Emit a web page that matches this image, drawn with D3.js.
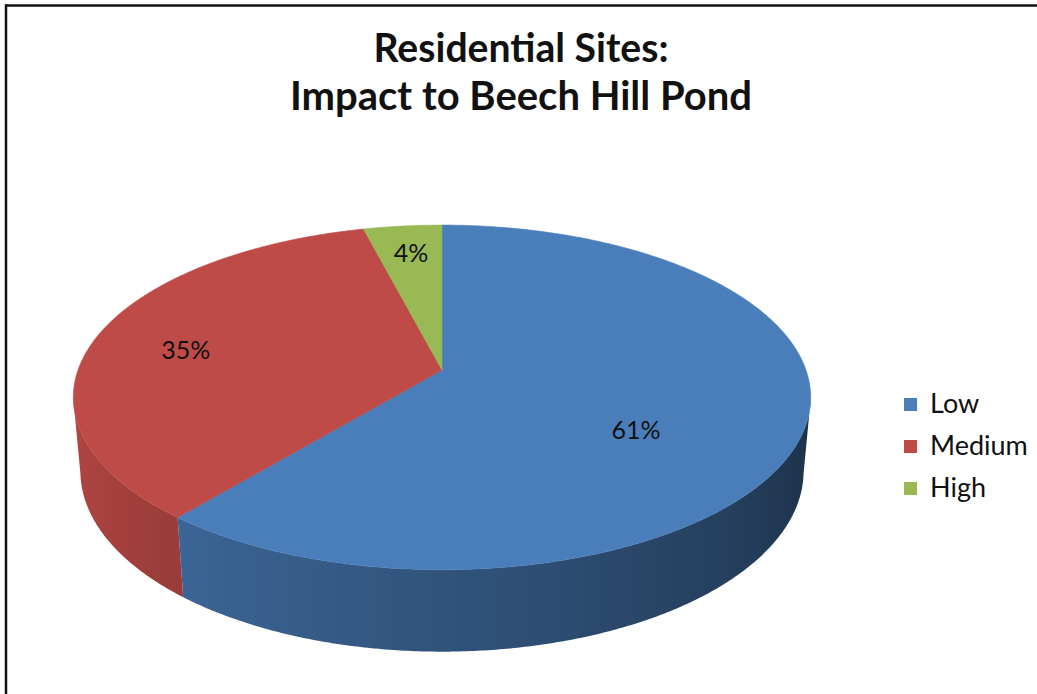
<!DOCTYPE html>
<html>
<head>
<meta charset="utf-8">
<script src="https://cdn.jsdelivr.net/npm/d3@7"></script>
<style>
  html, body { margin: 0; padding: 0; background: #ffffff; }
  svg { display: block; }
</style>
</head>
<body>
<svg id="chart" width="1037" height="694"></svg>
<script>
// ---- data ----
const categories = ["Low", "Medium", "High"];
const values = [61, 35, 4];
const valueLabels = ["61%", "35%", "4%"];
const colors = ["#4a7ebb", "#be4b48", "#98b954"];
const titleLines = ["Residential Sites:", "Impact to Beech Hill Pond"];

// ---- layout constants ----
const W = 1037, H = 694;
const cx = 442, cy = 370;          // projected pie centre
const sinPhi = 0.4615, cosPhi = Math.sqrt(1 - sinPhi * sinPhi);
const D = 5.58, F = 2031;          // camera distance and focal length (radius = 1)
const T = 0.23;                    // pie thickness
const labelR = [0.55, 0.74, 0.76];
const labelDy = [28, 7, -4];

const svg = d3.select("#chart");
svg.append("rect").attr("width", W).attr("height", H).attr("fill", "#fff");
const defs = svg.append("defs");

const color = d3.scaleOrdinal().domain(categories).range(colors);

function proj(theta, r, h) {
  const x = r * Math.sin(theta), d = r * Math.cos(theta);
  const z = D + d * cosPhi - h * sinPhi;
  return [cx + F * x / z, cy - F * (h * cosPhi + d * sinPhi) / z];
}

const pie = d3.pie().sort(null).value(d => d.value).startAngle(0).endAngle(2 * Math.PI);
const arcs = pie(categories.map((c, i) => ({ cat: c, value: values[i], label: valueLabels[i], i })));

const line = d3.line();
const STEP = Math.PI / 360;

// ---- side walls (one path per slice, shaded with a horizontal gradient) ----
const walls = svg.append("g");
function shade(base, theta) {
  let t = (theta - Math.PI / 2) / Math.PI;
  t = Math.max(0, Math.min(1, t));
  const k = 0.33 + 0.66 * t;
  const c = d3.rgb(base);
  return d3.rgb(c.r * k, c.g * k, c.b * k).formatHex();
}
const visLo = Math.acos(-0.17), visHi = 2 * Math.PI - Math.acos(-0.17);
arcs.forEach(a => {
  const s = Math.max(a.startAngle, visLo), e = Math.min(a.endAngle, visHi);
  if (e <= s) return;
  const n = Math.max(2, Math.ceil((e - s) / STEP));
  const topPts = [], botPts = [], thetas = [];
  for (let j = 0; j <= n; j++) {
    const t = s + (e - s) * j / n;
    thetas.push(t);
    topPts.push(proj(t, 1, 0));
    botPts.push(proj(t, 1, -T));
  }
  const xs = topPts.map(p => p[0]);
  const xMin = d3.min(xs), xMax = d3.max(xs);
  const gid = "wall-" + a.data.i;
  const grad = defs.append("linearGradient").attr("id", gid)
    .attr("gradientUnits", "userSpaceOnUse")
    .attr("x1", xMin).attr("y1", 0).attr("x2", xMax).attr("y2", 0);
  const stops = thetas.map((t, j) => ({ off: (xs[j] - xMin) / (xMax - xMin || 1), col: shade(color(a.data.cat), t) }))
    .sort((p, q) => p.off - q.off);
  stops.filter((d, j) => j % 6 === 0 || j === stops.length - 1).forEach(st => {
    grad.append("stop").attr("offset", st.off).attr("stop-color", st.col);
  });
  const pts = topPts.concat(botPts.slice().reverse());
  walls.append("path").attr("d", line(pts) + "Z").attr("fill", `url(#${gid})`);
});

// ---- top faces ----
const tops = svg.append("g");
arcs.forEach(a => {
  const n = Math.max(2, Math.ceil((a.endAngle - a.startAngle) / STEP));
  const pts = [proj(0, 0, 0)];
  for (let j = 0; j <= n; j++) {
    pts.push(proj(a.startAngle + (a.endAngle - a.startAngle) * j / n, 1, 0));
  }
  tops.append("path").attr("d", line(pts) + "Z")
    .attr("fill", color(a.data.cat))
    .attr("stroke", color(a.data.cat)).attr("stroke-width", 0.6);
});

// ---- value labels ----
svg.append("g").selectAll("text").data(arcs).join("text")
  .attr("x", a => proj((a.startAngle + a.endAngle) / 2, labelR[a.data.i], 0)[0])
  .attr("y", a => proj((a.startAngle + a.endAngle) / 2, labelR[a.data.i], 0)[1] + labelDy[a.data.i])
  .attr("text-anchor", "middle")
  .attr("dy", "0.35em")
  .attr("font-family", "Lato, 'Open Sans', sans-serif")
  .attr("font-size", 25)
  .attr("fill", "#111")
  .text(a => a.data.label);

// ---- title ----
const titleWidths = [295, 462];
svg.append("g").selectAll("text").data(titleLines).join("text")
  .attr("x", 521)
  .attr("y", (d, i) => 62 + i * 48)
  .attr("text-anchor", "middle")
  .attr("font-family", "Lato, 'Open Sans', sans-serif")
  .attr("font-weight", "bold")
  .attr("font-size", 40)
  .attr("fill", "#111")
  .attr("textLength", (d, i) => titleWidths[i])
  .attr("lengthAdjust", "spacingAndGlyphs")
  .text(d => d);

// ---- legend ----
const legend = svg.append("g").attr("transform", "translate(904,398)");
const items = legend.selectAll("g").data(categories).join("g")
  .attr("transform", (d, i) => `translate(0,${i * 42})`);
items.append("rect").attr("width", 13).attr("height", 13).attr("fill", d => color(d));
items.append("text").attr("x", 26).attr("y", 15)
  .attr("font-family", "Lato, 'Open Sans', sans-serif")
  .attr("font-size", 27)
  .attr("fill", "#111")
  .text(d => d);

// ---- frame lines ----
svg.append("line").attr("x1", 6).attr("y1", 4.5).attr("x2", 6).attr("y2", 694)
  .attr("stroke", "#111").attr("stroke-width", 2.5);
svg.append("line").attr("x1", 5).attr("y1", 5.5).attr("x2", 1037).attr("y2", 5.5)
  .attr("stroke", "#111").attr("stroke-width", 2.5);
</script>
</body>
</html>
